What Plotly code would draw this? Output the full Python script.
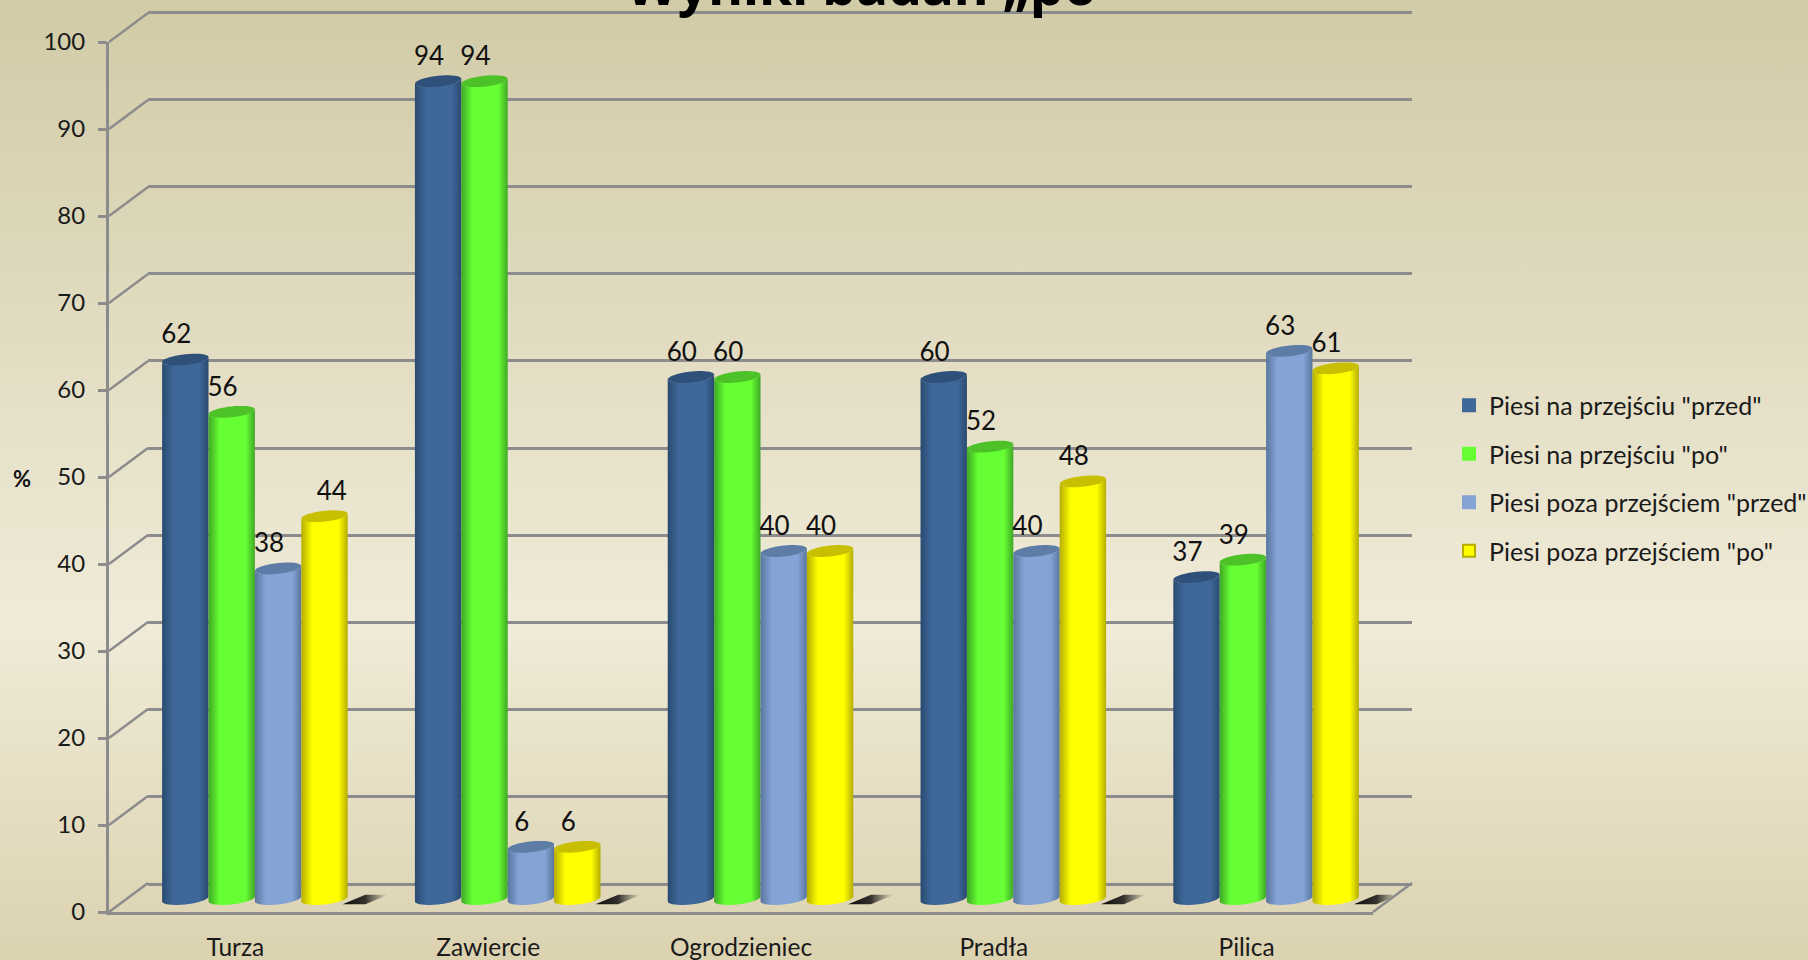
"""Wyniki badań „po” - pseudo-3D cylinder columns."""

import math

import plotly.graph_objects as go

categories = ["Turza", "Zawiercie", "Ogrodzieniec", "Pradła", "Pilica"]
series_names = [
    'Piesi na przejściu "przed"',
    'Piesi na przejściu "po"',
    'Piesi poza przejściem "przed"',
    'Piesi poza przejściem "po"',
]
przed_na = [62, 94, 60, 60, 37]
po_na = [56, 94, 60, 52, 39]
przed_poza = [38, 6, 40, 40, 63]
po_poza = [44, 6, 40, 48, 61]
series_values = [przed_na, po_na, przed_poza, po_poza]

y_ticks = list(range(0, 101, 10))

# legend colour, edge shade, top ellipse
series_colors = [
    ("#3E6899", "#294A70", "#2F5179"),
    ("#66FF33", "#3FA825", "#4CC228"),
    ("#85A4D6", "#5A769E", "#5D7CA6"),
    ("#FFFF00", "#B5AD00", "#C7BF00"),
]

W, H = 1808, 960
FONT = "Lato"
INK = "#1a1a1a"
GRID = "#8C8C8C"
SLOT = 0.1835  # bar width in category units
RADIUS = SLOT / 2
CAP_H = 0.62  # cap half height, value units
CAP_TILT = 0.28
LABEL_DX = -0.036
LABEL_DY = 2.6


def px_dom(a, b, size):
    return [a / size, b / size]


def body_path(cx, v):
    xs, ys = [], []
    for i in range(0, 21):
        t = math.pi * i / 20
        xs.append(cx - RADIUS * math.cos(t))
        ys.append(v - CAP_TILT * math.cos(t) - CAP_H * math.sin(t))
    for i in range(0, 21):
        t = math.pi * i / 20
        xs.append(cx + RADIUS * math.cos(t))
        ys.append(CAP_TILT * math.cos(t) - CAP_H * math.sin(t))
    xs.append(xs[0])
    ys.append(ys[0])
    return xs, ys


def cap_path(cx, v):
    xs, ys = [], []
    for i in range(0, 41):
        t = 2 * math.pi * i / 40
        xs.append(cx + RADIUS * math.cos(t))
        ys.append(v + CAP_TILT * math.cos(t) + CAP_H * math.sin(t))
    return xs, ys


fig = go.Figure()

# page background
fig.add_trace(
    go.Scatter(
        x=[0, 1, 1, 0, 0],
        y=[0, 0, 1, 1, 0],
        xaxis="x",
        yaxis="y",
        mode="none",
        fill="toself",
        fillgradient=dict(
            type="vertical",
            colorscale=[
                [0.0, "#DBD2B0"],
                [0.35, "#F0EBD8"],
                [1.0, "#D1CBA7"],
            ],
        ),
        showlegend=False,
        hoverinfo="skip",
    )
)

# empty traces so the back wall and front plane subplots get drawn
fig.add_trace(
    go.Scatter(
        x=[0],
        y=[0],
        xaxis="x2",
        yaxis="y2",
        mode="markers",
        marker=dict(opacity=0),
        showlegend=False,
        hoverinfo="skip",
    )
)
fig.add_trace(
    go.Scatter(
        x=categories,
        y=[0] * len(categories),
        xaxis="x3",
        yaxis="y3",
        mode="markers",
        marker=dict(opacity=0),
        showlegend=False,
        hoverinfo="skip",
    )
)

for s, (name, values) in enumerate(zip(series_names, series_values)):
    mid, edge, top = series_colors[s]
    centers = [i + (s - 1.5) * SLOT for i in range(len(categories))]
    fig.add_trace(
        go.Bar(
            x=centers,
            y=values,
            width=SLOT * 0.7,
            name=name,
            legendgroup=name,
            marker=dict(color=mid, line=dict(color=edge if s == 3 else mid, width=2)),
            xaxis="x4",
            yaxis="y4",
        )
    )

for i, cat in enumerate(categories):
    for s in range(len(series_names)):
        mid, edge, top = series_colors[s]
        v = series_values[s][i]
        cx = i + (s - 1.5) * SLOT
        bx, by = body_path(cx, v)
        fig.add_trace(
            go.Scatter(
                x=bx,
                y=by,
                xaxis="x4",
                yaxis="y4",
                mode="none",
                fill="toself",
                fillgradient=dict(
                    type="horizontal",
                    colorscale=[
                        [0.0, edge],
                        [0.24, mid],
                        [0.8, mid],
                        [1.0, edge],
                    ],
                ),
                showlegend=False,
                hoverinfo="skip",
            )
        )
        tx, ty = cap_path(cx, v)
        fig.add_trace(
            go.Scatter(
                x=tx,
                y=ty,
                xaxis="x4",
                yaxis="y4",
                mode="none",
                fill="toself",
                fillcolor=top,
                showlegend=False,
                hoverinfo="skip",
            )
        )
    # little floor shadow behind the last column
    sx = i + 2 * SLOT - 0.02
    fig.add_trace(
        go.Scatter(
            x=[sx, sx + 0.09, sx + 0.18, sx + 0.09, sx],
            y=[-0.6, -0.6, 0.5, 0.5, -0.6],
            xaxis="x4",
            yaxis="y4",
            mode="none",
            fill="toself",
            fillgradient=dict(
                type="horizontal",
                colorscale=[
                    [0.0, "rgba(0,0,0,0.95)"],
                    [0.5, "rgba(20,20,20,0.85)"],
                    [1.0, "rgba(60,60,60,0)"],
                ],
            ),
            showlegend=False,
            hoverinfo="skip",
        )
    )

# data labels
for s, values in enumerate(series_values):
    xs = [i + (s - 1.5) * SLOT + LABEL_DX for i in range(len(categories))]
    if s == 3:
        xs[0] += 0.065  # 44 sits right of its column in the source
    fig.add_trace(
        go.Scatter(
            x=xs,
            y=[v + LABEL_DY for v in values],
            text=[str(v) for v in values],
            mode="text",
            textposition="middle center",
            textfont=dict(family=FONT, size=26, color="#111111"),
            xaxis="x4",
            yaxis="y4",
            showlegend=False,
            hoverinfo="skip",
        )
    )

# side wall + floor diagonals, paper y so the 100 one is not clipped
depth_x = 39 / 1264
shapes = []
for t in y_ticks:
    y_front = (48 + 8.7 * t) / H
    shapes.append(
        dict(
            type="line",
            xref="x3 domain",
            yref="paper",
            x0=0,
            x1=depth_x,
            y0=y_front,
            y1=y_front + 29 / H,
            line=dict(color=GRID, width=2.5),
        )
    )
shapes.append(
    dict(
        type="line",
        xref="x3 domain",
        yref="paper",
        x0=1,
        x1=1 + depth_x,
        y0=48 / H,
        y1=77 / H,
        line=dict(color=GRID, width=2.5),
    )
)

fig.update_layout(
    template="none",
    width=W,
    height=H,
    margin=dict(l=0, r=0, t=0, b=0, autoexpand=False),
    autosize=False,
    paper_bgcolor="#E5DFC5",
    plot_bgcolor="rgba(0,0,0,0)",
    barmode="overlay",
    font=dict(family=FONT, size=24, color=INK),
    title=dict(
        text="<b>Wyniki badań „po”</b>",
        x=0.483,
        xanchor="center",
        xref="paper",
        y=1,
        yref="paper",
        yanchor="bottom",
        pad=dict(b=-5),
        font=dict(family="Noto Sans", size=53.5, color="#000000"),
    ),
    xaxis=dict(domain=[0, 1], range=[0, 1], visible=False, fixedrange=True),
    yaxis=dict(domain=[0, 1], range=[0, 1], visible=False, fixedrange=True),
    # back wall, range runs one unit past both ends so 0 and 100 keep their lines
    xaxis2=dict(
        domain=px_dom(148, 1412, W),
        range=[-0.5, 4.5],
        visible=False,
        anchor="y2",
    ),
    yaxis2=dict(
        domain=[(H - 892.72) / H, (H - 3.28) / H],
        range=[-1, 101],
        anchor="x2",
        tickvals=y_ticks,
        showticklabels=False,
        ticks="",
        showgrid=True,
        gridcolor=GRID,
        gridwidth=2.5,
        zeroline=False,
        showline=False,
    ),
    # front plane with the real axes
    xaxis3=dict(
        domain=px_dom(109, 1373, W),
        range=[-0.5, 4.5],
        type="category",
        categoryorder="array",
        categoryarray=categories,
        anchor="y3",
        showline=True,
        linecolor=GRID,
        linewidth=3,
        showgrid=False,
        ticks="",
        ticklabelstandoff=12,
        tickfont=dict(family=FONT, size=24.5, color=INK),
    ),
    yaxis3=dict(
        domain=[48 / H, 918 / H],
        range=[0, 100],
        anchor="x3",
        tickvals=y_ticks,
        showgrid=False,
        zeroline=False,
        showline=True,
        linecolor=GRID,
        linewidth=3,
        ticks="outside",
        ticklen=8,
        tickwidth=2.5,
        tickcolor=GRID,
        ticklabelstandoff=8,
        tickfont=dict(family=FONT, size=24, color=INK),
    ),
    # columns stand halfway back, range dips below 0 so the round bottoms show
    xaxis4=dict(
        domain=px_dom(128.5, 1392.5, W),
        range=[-0.5, 4.5],
        visible=False,
        anchor="y4",
    ),
    yaxis4=dict(
        domain=[(H - 916.4) / H, 931 / H],
        range=[-2, 100],
        visible=False,
        anchor="x4",
    ),
    legend=dict(
        x=1449 / W,
        xanchor="left",
        y=1 - 382.5 / H,
        yanchor="top",
        bgcolor="rgba(0,0,0,0)",
        font=dict(family=FONT, size=25, color=INK),
        tracegroupgap=13,
        traceorder="grouped",
    ),
    shapes=shapes,
    annotations=[
        dict(
            text="<b>%</b>",
            xref="paper",
            yref="paper",
            x=22 / W,
            y=1 - 478 / H,
            xanchor="center",
            showarrow=False,
            font=dict(family=FONT, size=22, color="#111111"),
        )
    ],
)

fig.write_html(
    "out.html",
    config={"displayModeBar": False},
    post_script="document.body.style.margin='0';",
)
